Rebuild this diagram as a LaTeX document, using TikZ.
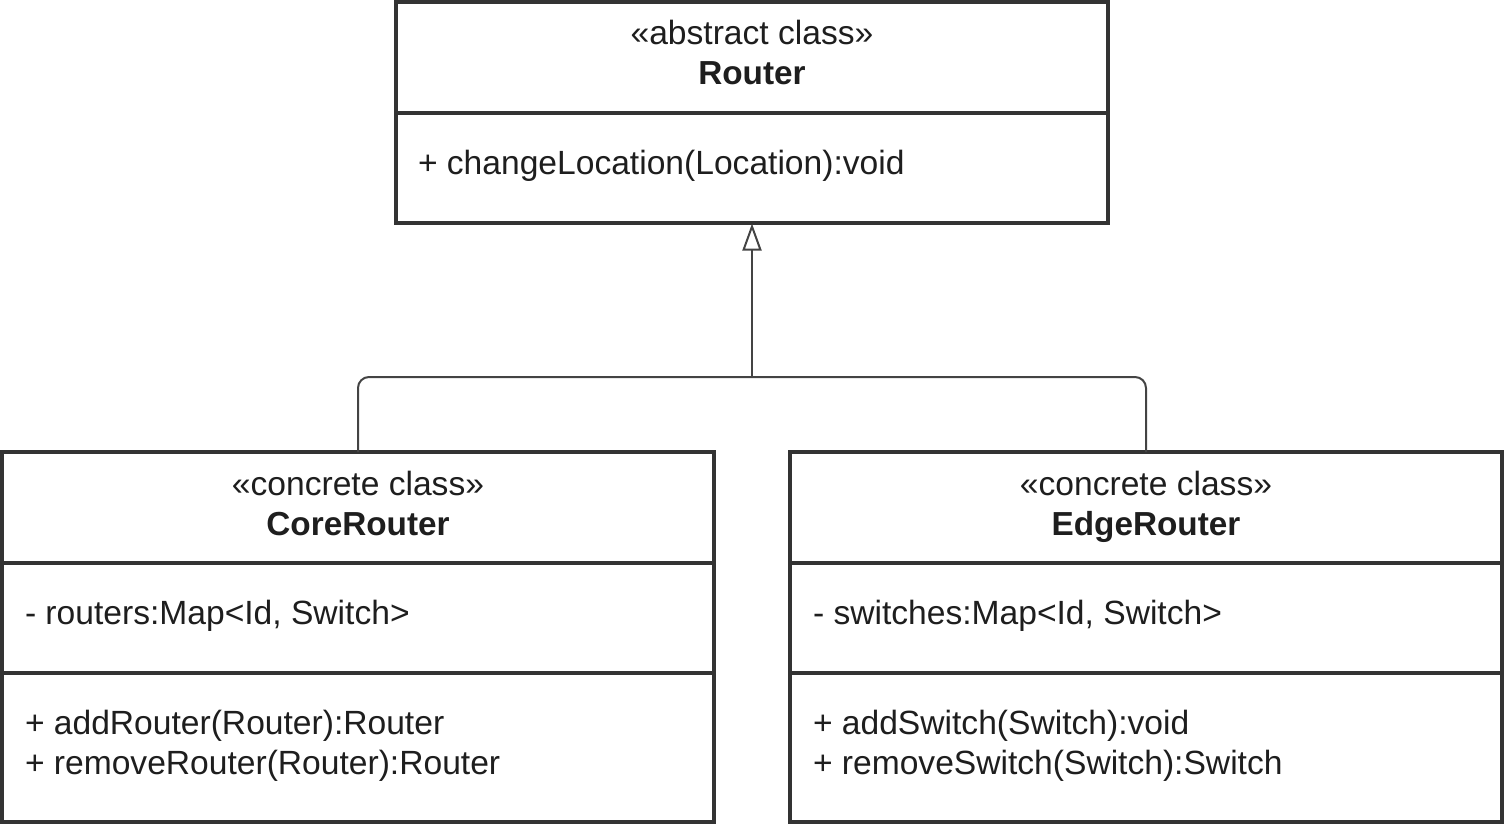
\documentclass[tikz,border=0pt]{standalone}
\usepackage{fontspec}
\setmainfont{Liberation Sans}
\usetikzlibrary{arrows.meta}
\definecolor{linec}{HTML}{333333}
\definecolor{connc}{HTML}{444444}
\definecolor{txtc}{HTML}{1E1E1E}
\begin{document}
\begin{tikzpicture}[x=1pt,y=-1pt,
  umlbox/.style={draw=linec, line width=3.5pt, fill=white, rectangle, inner sep=0pt, outer sep=0pt, minimum width=712pt},
  divider/.style={draw=linec, line width=3.5pt},
  conn/.style={draw=connc, line width=2pt, rounded corners=11pt},
  txt/.style={inner sep=0pt, outer sep=0pt, text=txtc, font=\fontsize{33.6}{40}\selectfont},
  btxt/.style={txt, font=\fontsize{33.3}{40}\selectfont\bfseries}
]
\useasboundingbox (0,0) rectangle (1504,825);
% boxes
\node[umlbox, minimum height=221pt] (router) at (752,112.5) {};
\node[umlbox, minimum height=370pt] (core) at (358,637) {};
\node[umlbox, minimum height=370pt] (edge) at (1146,637) {};
% dividers
\draw[divider] (router.west |- 0,113) -- (router.east |- 0,113);
\draw[divider] (core.west |- 0,563) -- (core.east |- 0,563);
\draw[divider] (core.west |- 0,673) -- (core.east |- 0,673);
\draw[divider] (edge.west |- 0,563) -- (edge.east |- 0,563);
\draw[divider] (edge.west |- 0,673) -- (edge.east |- 0,673);
% texts
\node[txt, anchor=base] (rst) at (752,44) {«abstract class»};
\node[btxt, anchor=base] (rname) at (752,84) {Router};
\node[txt, anchor=base west] (rm1) at (418,174) {+ changeLocation(Location):void};
\node[txt, anchor=base] (cst) at (358,495) {«concrete class»};
\node[btxt, anchor=base] (cname) at (358,535) {CoreRouter};
\node[txt, anchor=base west] (ca1) at (25,624) {- routers:Map<Id, Switch>};
\node[txt, anchor=base west] (cm1) at (25,734) {+ addRouter(Router):Router};
\node[txt, anchor=base west] (cm2) at (25,774) {+ removeRouter(Router):Router};
\node[txt, anchor=base] (est) at (1146,495) {«concrete class»};
\node[btxt, anchor=base] (ename) at (1146,535) {EdgeRouter};
\node[txt, anchor=base west] (ea1) at (813,624) {- switches:Map<Id, Switch>};
\node[txt, anchor=base west] (em1) at (813,734) {+ addSwitch(Switch):void};
\node[txt, anchor=base west] (em2) at (813,774) {+ removeSwitch(Switch):Switch};
% connectors
\coordinate (j) at (752,377);
\draw[conn] (core.north) |- (j) -| (edge.north);
\draw[draw=connc, line width=2pt, -{Triangle[open, length=27pt, width=19pt, line width=2pt]}, shorten >=0.5pt] (j) -- (router.south);
\end{tikzpicture}
\end{document}
